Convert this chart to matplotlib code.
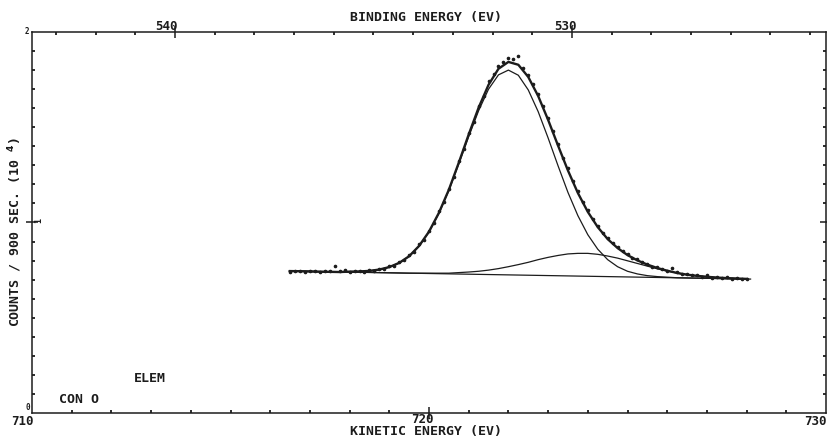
import numpy as np
import matplotlib.pyplot as plt
from matplotlib.ticker import FixedLocator, NullFormatter

HV = 1253.6  # photon energy: binding = HV - kinetic

# measured points, counts / 900 s (x10^4), one every 0.125 eV from 716.5 eV
pts_start, pts_step = 716.5, 0.125
counts = [
    0.742, 0.748, 0.746, 0.741, 0.747, 0.744, 0.739, 0.745,
    0.743, 0.770, 0.744, 0.752, 0.741, 0.747, 0.745, 0.740,
    0.750, 0.748, 0.757, 0.756, 0.770, 0.774, 0.793, 0.802,
    0.829, 0.846, 0.885, 0.909, 0.958, 0.996, 1.060, 1.105,
    1.178, 1.238, 1.322, 1.384, 1.470, 1.530, 1.612, 1.664,
    1.745, 1.778, 1.822, 1.840, 1.862, 1.858, 1.872, 1.812,
    1.773, 1.726, 1.675, 1.610, 1.550, 1.478, 1.413, 1.340,
    1.284, 1.216, 1.163, 1.106, 1.064, 1.018, 0.983, 0.945,
    0.921, 0.890, 0.872, 0.850, 0.834, 0.813, 0.806, 0.791,
    0.784, 0.768, 0.764, 0.756, 0.748, 0.760, 0.739, 0.728,
    0.731, 0.722, 0.726, 0.715, 0.722, 0.711, 0.716, 0.707,
    0.712, 0.704, 0.709, 0.703, 0.706,
]

# fitted curves, one value every 0.25 eV from 716.5 eV
fit_start, fit_step = 716.5, 0.25
fit_total = [
    0.745, 0.744, 0.743, 0.742, 0.741, 0.740, 0.742, 0.743,
    0.746, 0.753, 0.766, 0.788, 0.823, 0.877, 0.952, 1.051,
    1.172, 1.314, 1.462, 1.603, 1.723, 1.807, 1.843, 1.828,
    1.764, 1.664, 1.539, 1.404, 1.273, 1.155, 1.056, 0.976,
    0.913, 0.866, 0.829, 0.801, 0.779, 0.761, 0.747, 0.735,
    0.726, 0.720, 0.715, 0.711, 0.708, 0.706, 0.704,
]
fit_main = [
    0.745, 0.744, 0.743, 0.742, 0.741, 0.740, 0.742, 0.743,
    0.746, 0.753, 0.766, 0.788, 0.823, 0.876, 0.950, 1.048,
    1.168, 1.307, 1.451, 1.587, 1.700, 1.775, 1.800, 1.773,
    1.696, 1.582, 1.444, 1.298, 1.158, 1.036, 0.936, 0.860,
    0.805, 0.768, 0.744, 0.730, 0.721, 0.716, 0.713, 0.710,
    0.709, 0.708, 0.707, 0.706, 0.705, 0.704, 0.703,
]
fit_second = [
    0.745, 0.744, 0.743, 0.742, 0.741, 0.740, 0.740, 0.739,
    0.738, 0.737, 0.736, 0.735, 0.734, 0.734, 0.734, 0.734,
    0.734, 0.737, 0.740, 0.744, 0.750, 0.758, 0.768, 0.779,
    0.791, 0.805, 0.817, 0.827, 0.835, 0.838, 0.838, 0.833,
    0.824, 0.813, 0.799, 0.785, 0.771, 0.757, 0.745, 0.735,
    0.726, 0.720, 0.715, 0.711, 0.708, 0.706, 0.704,
]
bg_ke = [716.47, 728.1]
bg_counts = [0.745, 0.703]

pts_ke = pts_start + pts_step * np.arange(len(counts))
fit_ke = fit_start + fit_step * np.arange(len(fit_total))

ink = '#1c1c1c'
plt.rcParams['font.family'] = ['DejaVu Sans Mono']
plt.rcParams['font.weight'] = 'bold'

W, H = 827, 436
fig = plt.figure(figsize=(W / 100, H / 100), dpi=100)
ax = fig.add_axes([32 / W, 1 - 413 / H, 794 / W, 381 / H])

ax.plot(bg_ke, bg_counts, color=ink, lw=0.9)
ax.plot(fit_ke, fit_second, color=ink, lw=0.9)
ax.plot(fit_ke, fit_main, color=ink, lw=0.9)
ax.plot(fit_ke, fit_total, color=ink, lw=1.7)
ax.plot(pts_ke, counts, ls='none', marker='.', ms=3.2, color=ink)

ax.set_xlim(710, 730)
ax.set_ylim(0, 2)
for s in ax.spines.values():
    s.set_color(ink)
    s.set_linewidth(1.1)

# bottom / left / right ticks
ax.xaxis.set_major_locator(FixedLocator([720]))
ax.xaxis.set_minor_locator(FixedLocator(range(711, 730)))
ax.yaxis.set_major_locator(FixedLocator([1]))
ax.yaxis.set_minor_locator(FixedLocator(np.arange(0.1, 2.0, 0.1)))
ax.xaxis.set_major_formatter(NullFormatter())
ax.yaxis.set_major_formatter(NullFormatter())
ax.tick_params(which='major', direction='inout', length=9, width=1.1,
               color=ink, right=True)
ax.tick_params(which='minor', direction='in', length=2.2, width=1.3,
               color=ink, right=True)

# top axis: binding energy
top = ax.secondary_xaxis('top', functions=(lambda k: HV - k, lambda b: HV - b))
top.xaxis.set_major_locator(FixedLocator([530, 540]))
top.xaxis.set_minor_locator(FixedLocator(range(524, 544)))
top.xaxis.set_major_formatter(NullFormatter())
top.tick_params(which='major', direction='inout', length=9, width=1.1, color=ink)
top.tick_params(which='minor', direction='in', length=2.2, width=1.3, color=ink)
top.spines['top'].set_visible(False)


def label(x, y, s, size=9.5, ha='center', va='center', rot=0):
    fig.text(x / W, 1 - y / H, s, fontsize=size, ha=ha, va=va,
             rotation=rot, color=ink)


label(426, 18, 'BINDING ENERGY (EV)')
label(426, 431, 'KINETIC ENERGY (EV)')
label(15, 232, 'COUNTS / 900 SEC. (10 $^{4}$)', rot=90)
label(178, 27, '540', size=9, ha='right')
label(577, 27, '530', size=9, ha='right')
label(434, 419, '720', size=9, ha='right')
label(34, 421, '710', size=9, ha='right')
label(827, 421, '730', size=9, ha='right')
label(29, 31, '2', size=5.5, ha='right')
label(39, 220, '1', size=6, rot=90)
label(30, 407, '0', size=5.5, ha='right')
label(150, 379, 'ELEM')
label(79, 399, 'CON O')

fig.savefig('out.png', dpi=100, facecolor='white')
